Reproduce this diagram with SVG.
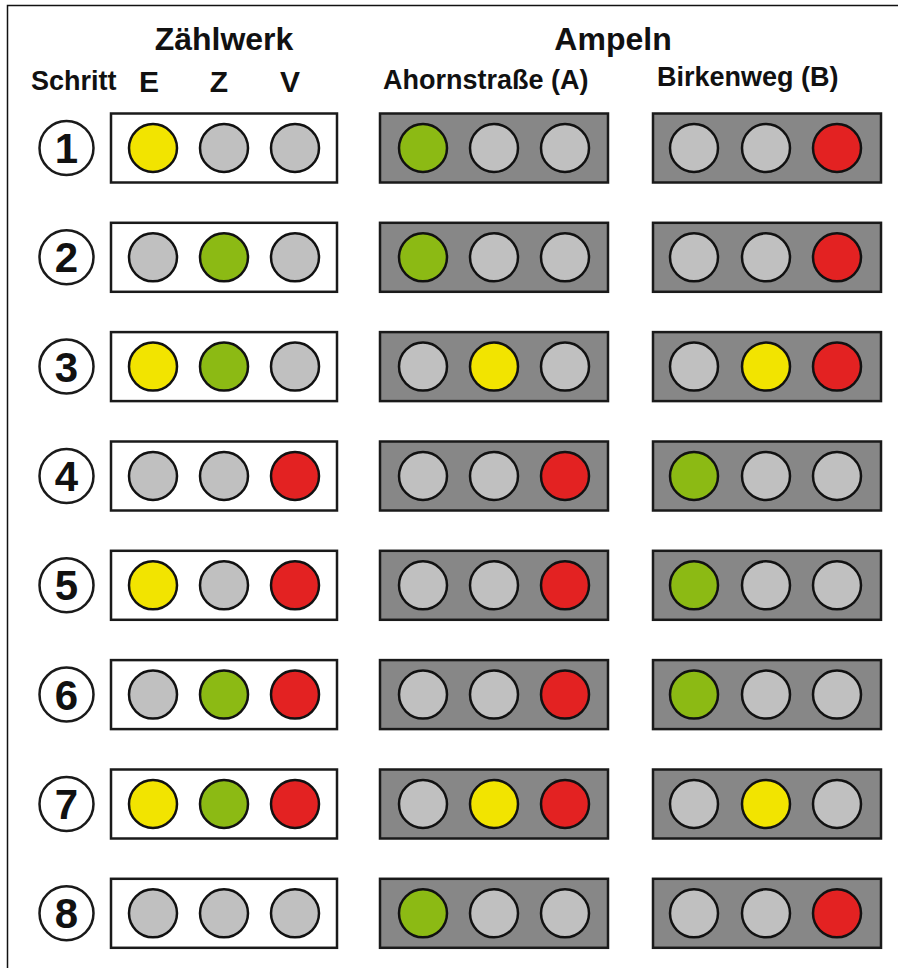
<svg xmlns="http://www.w3.org/2000/svg" width="898" height="968" viewBox="0 0 898 968">
<style>
text{font-family:"Liberation Sans",Arial,sans-serif;font-weight:bold;fill:#111}
.h{font-size:32px;text-anchor:middle}
.s{font-size:27px}
.c{font-size:30px;text-anchor:middle}
.n{font-size:42px;text-anchor:middle}
.zb{fill:#fff;stroke:#1a1a1a;stroke-width:2.5}
.ab{fill:#878787;stroke:#1a1a1a;stroke-width:2.5}
.st{fill:#fff;stroke:#1a1a1a;stroke-width:2.5}
circle.o{fill:#c0c0c0;stroke:#111;stroke-width:2.5}
circle.y{fill:#f2e400;stroke:#111;stroke-width:2.5}
circle.g{fill:#8cba14;stroke:#111;stroke-width:2.5}
circle.r{fill:#e32222;stroke:#111;stroke-width:2.5}
</style>
<rect width="898" height="968" fill="#fff"/>
<path d="M7.5,968 V5.5 H898" fill="none" stroke="#111" stroke-width="1.5"/>
<g id="headers">
<text class="h" x="224" y="50">Zählwerk</text>
<text class="h" x="613" y="50">Ampeln</text>
<text class="s" x="31" y="90">Schritt</text>
<text class="c" x="149" y="92">E</text>
<text class="c" x="219" y="92">Z</text>
<text class="c" x="290" y="92">V</text>
<text class="s" x="383" y="89">Ahornstraße (A)</text>
<text class="s" x="657" y="86">Birkenweg (B)</text>
</g>
<defs>
<g id="zbox"><rect class="zb" x="111" y="-34.5" width="226" height="69"/></g>
<g id="abox"><rect class="ab" x="380" y="-34.5" width="228" height="69"/></g>
<g id="bbox"><rect class="ab" x="653" y="-34.5" width="228" height="69"/></g>
</defs>
<g id="row1" transform="translate(0,148)">
<circle class="st" cx="66.5" cy="0" r="27"/><text class="n" x="66.5" y="15">1</text>
<use href="#zbox"/><circle class="y" cx="153" cy="0" r="24"/><circle class="o" cx="224" cy="0" r="24"/><circle class="o" cx="295" cy="0" r="24"/>
<use href="#abox"/><circle class="g" cx="423" cy="0" r="24"/><circle class="o" cx="494" cy="0" r="24"/><circle class="o" cx="565" cy="0" r="24"/>
<use href="#bbox"/><circle class="o" cx="694" cy="0" r="24"/><circle class="o" cx="766" cy="0" r="24"/><circle class="r" cx="837" cy="0" r="24"/>
</g>
<g id="row2" transform="translate(0,257.3)">
<circle class="st" cx="66.5" cy="0" r="27"/><text class="n" x="66.5" y="15">2</text>
<use href="#zbox"/><circle class="o" cx="153" cy="0" r="24"/><circle class="g" cx="224" cy="0" r="24"/><circle class="o" cx="295" cy="0" r="24"/>
<use href="#abox"/><circle class="g" cx="423" cy="0" r="24"/><circle class="o" cx="494" cy="0" r="24"/><circle class="o" cx="565" cy="0" r="24"/>
<use href="#bbox"/><circle class="o" cx="694" cy="0" r="24"/><circle class="o" cx="766" cy="0" r="24"/><circle class="r" cx="837" cy="0" r="24"/>
</g>
<g id="row3" transform="translate(0,366.6)">
<circle class="st" cx="66.5" cy="0" r="27"/><text class="n" x="66.5" y="15">3</text>
<use href="#zbox"/><circle class="y" cx="153" cy="0" r="24"/><circle class="g" cx="224" cy="0" r="24"/><circle class="o" cx="295" cy="0" r="24"/>
<use href="#abox"/><circle class="o" cx="423" cy="0" r="24"/><circle class="y" cx="494" cy="0" r="24"/><circle class="o" cx="565" cy="0" r="24"/>
<use href="#bbox"/><circle class="o" cx="694" cy="0" r="24"/><circle class="y" cx="766" cy="0" r="24"/><circle class="r" cx="837" cy="0" r="24"/>
</g>
<g id="row4" transform="translate(0,476)">
<circle class="st" cx="66.5" cy="0" r="27"/><text class="n" x="66.5" y="15">4</text>
<use href="#zbox"/><circle class="o" cx="153" cy="0" r="24"/><circle class="o" cx="224" cy="0" r="24"/><circle class="r" cx="295" cy="0" r="24"/>
<use href="#abox"/><circle class="o" cx="423" cy="0" r="24"/><circle class="o" cx="494" cy="0" r="24"/><circle class="r" cx="565" cy="0" r="24"/>
<use href="#bbox"/><circle class="g" cx="694" cy="0" r="24"/><circle class="o" cx="766" cy="0" r="24"/><circle class="o" cx="837" cy="0" r="24"/>
</g>
<g id="row5" transform="translate(0,585.3)">
<circle class="st" cx="66.5" cy="0" r="27"/><text class="n" x="66.5" y="15">5</text>
<use href="#zbox"/><circle class="y" cx="153" cy="0" r="24"/><circle class="o" cx="224" cy="0" r="24"/><circle class="r" cx="295" cy="0" r="24"/>
<use href="#abox"/><circle class="o" cx="423" cy="0" r="24"/><circle class="o" cx="494" cy="0" r="24"/><circle class="r" cx="565" cy="0" r="24"/>
<use href="#bbox"/><circle class="g" cx="694" cy="0" r="24"/><circle class="o" cx="766" cy="0" r="24"/><circle class="o" cx="837" cy="0" r="24"/>
</g>
<g id="row6" transform="translate(0,694.6)">
<circle class="st" cx="66.5" cy="0" r="27"/><text class="n" x="66.5" y="15">6</text>
<use href="#zbox"/><circle class="o" cx="153" cy="0" r="24"/><circle class="g" cx="224" cy="0" r="24"/><circle class="r" cx="295" cy="0" r="24"/>
<use href="#abox"/><circle class="o" cx="423" cy="0" r="24"/><circle class="o" cx="494" cy="0" r="24"/><circle class="r" cx="565" cy="0" r="24"/>
<use href="#bbox"/><circle class="g" cx="694" cy="0" r="24"/><circle class="o" cx="766" cy="0" r="24"/><circle class="o" cx="837" cy="0" r="24"/>
</g>
<g id="row7" transform="translate(0,804)">
<circle class="st" cx="66.5" cy="0" r="27"/><text class="n" x="66.5" y="15">7</text>
<use href="#zbox"/><circle class="y" cx="153" cy="0" r="24"/><circle class="g" cx="224" cy="0" r="24"/><circle class="r" cx="295" cy="0" r="24"/>
<use href="#abox"/><circle class="o" cx="423" cy="0" r="24"/><circle class="y" cx="494" cy="0" r="24"/><circle class="r" cx="565" cy="0" r="24"/>
<use href="#bbox"/><circle class="o" cx="694" cy="0" r="24"/><circle class="y" cx="766" cy="0" r="24"/><circle class="o" cx="837" cy="0" r="24"/>
</g>
<g id="row8" transform="translate(0,913.3)">
<circle class="st" cx="66.5" cy="0" r="27"/><text class="n" x="66.5" y="15">8</text>
<use href="#zbox"/><circle class="o" cx="153" cy="0" r="24"/><circle class="o" cx="224" cy="0" r="24"/><circle class="o" cx="295" cy="0" r="24"/>
<use href="#abox"/><circle class="g" cx="423" cy="0" r="24"/><circle class="o" cx="494" cy="0" r="24"/><circle class="o" cx="565" cy="0" r="24"/>
<use href="#bbox"/><circle class="o" cx="694" cy="0" r="24"/><circle class="o" cx="766" cy="0" r="24"/><circle class="r" cx="837" cy="0" r="24"/>
</g>
<g id="connectors"/>
</svg>
